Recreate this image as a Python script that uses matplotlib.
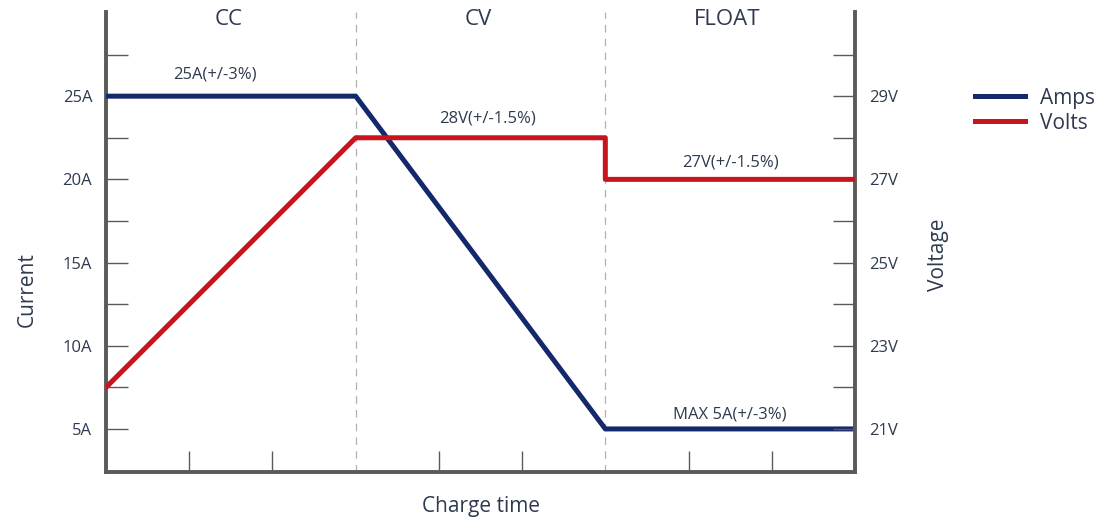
import numpy as np
import matplotlib
matplotlib.use('Agg')
import matplotlib.pyplot as plt

plt.rcParams['font.family'] = ['Open Sans', 'DejaVu Sans']

# stage boundaries along the charge time axis
stages = ['CC', 'CV', 'FLOAT']
stage_edges = [0, 1, 2, 3]

# current profile (A)
amps_t = [0, 1, 2, 3]
amps = [25, 25, 5, 5]

# voltage profile (V)
volts_t = [0, 1, 2, 2, 3]
volts = [22, 28, 28, 27, 27]

amp_ticks = [5, 10, 15, 20, 25]
amp_labels = ['5A', '10A', '15A', '20A', '25A']
volt_ticks = [21, 23, 25, 27, 29]
volt_labels = ['21V', '23V', '25V', '27V', '29V']

blue = '#13296b'
red = '#c8141c'
txt = '#2e3a4f'
spine = '#5a5a5a'

fig = plt.figure(figsize=(11.15, 5.21), dpi=100)
ax = fig.add_axes([0.0951, 0.094, 0.6717, 0.883])
ax2 = ax.twinx()

# axis scales: V = 19 + 0.4*A
alim = (2.41, 30.06)
ax.set_ylim(alim)
ax2.set_ylim(19 + 0.4 * alim[0], 19 + 0.4 * alim[1])
ax.set_xlim(0, 3)

for x in stage_edges[1:-1]:
    ax.axvline(x, color='#b0b0b0', lw=0.9, ls=(0, (6, 5)), zorder=1)

la, = ax.plot(amps_t, amps, color=blue, lw=3.6, solid_joinstyle='round', zorder=3, label='Amps')
lv, = ax2.plot(volts_t, volts, color=red, lw=3.6, solid_joinstyle='round', zorder=3, label='Volts')

# spines
for a in (ax, ax2):
    a.spines['top'].set_visible(False)
    for s in a.spines.values():
        s.set_color(spine)
        s.set_linewidth(2.8)
ax.spines['right'].set_visible(False)
ax2.spines['left'].set_visible(False)
ax2.spines['bottom'].set_visible(False)

ax.set_yticks(amp_ticks)
ax.set_yticklabels(amp_labels)
ax.set_yticks([7.5, 12.5, 17.5, 22.5, 27.5], minor=True)
ax2.set_yticks(volt_ticks)
ax2.set_yticklabels(volt_labels)
ax2.set_yticks([22, 24, 26, 28, 30], minor=True)
ax.set_xticks([1/3, 2/3, 4/3, 5/3, 7/3, 8/3])
ax.set_xticklabels([])

for a in (ax, ax2):
    a.tick_params(axis='y', which='both', direction='in', length=16, width=1.0,
                  color=spine, labelsize=12, labelcolor=txt, pad=10)
ax.tick_params(axis='x', which='both', direction='in', length=15, width=1.0, color=spine)

ax.set_ylabel('Current', fontsize=15, color=txt)
ax.yaxis.set_label_coords(-0.091, 0.396)
ax2.set_ylabel('Voltage', fontsize=15, color=txt)
ax2.yaxis.set_label_coords(1.098, 0.472)
ax.set_xlabel('Charge time', fontsize=15, color=txt, labelpad=14)

# stage names
for i, name in enumerate(stages):
    ax.text((stage_edges[i] + stage_edges[i + 1]) / 2 - 0.01, 29.6, name,
            ha='center', va='center', fontsize=16, color=txt)

ax.text(0.437, 26.3, '25A(+/-3%)', ha='center', va='center', fontsize=12, color=txt)
ax2.text(1.53, 28.47, '28V(+/-1.5%)', ha='center', va='center', fontsize=12, color=txt)
ax2.text(2.5, 27.41, '27V(+/-1.5%)', ha='center', va='center', fontsize=12, color=txt)
ax.text(2.5, 5.84, 'MAX 5A(+/-3%)', ha='center', va='center', fontsize=12, color=txt)

fig.legend(handles=[la, lv], loc='upper left', bbox_to_anchor=(0.858, 0.868),
           frameon=False, fontsize=15, handlelength=2.4, handletextpad=0.7,
           labelspacing=0.2, labelcolor=txt)

fig.savefig('out.png', dpi=100, facecolor='white')
